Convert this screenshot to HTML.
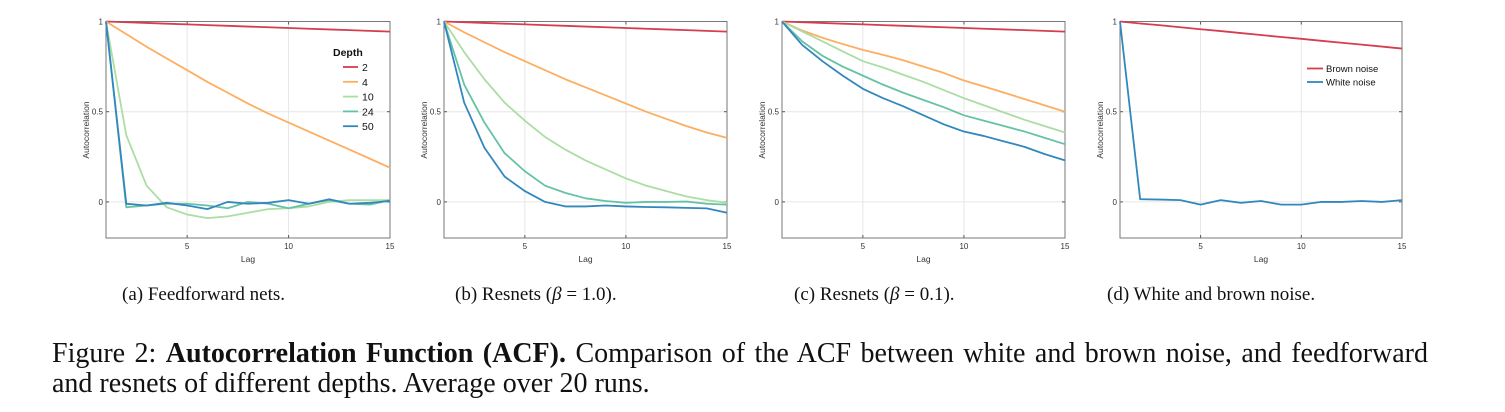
<!DOCTYPE html>
<html><head><meta charset="utf-8">
<style>
body{margin:0;background:#fff;width:1505px;height:412px;overflow:hidden;position:relative;font-family:"Liberation Serif",serif;}
svg{position:absolute;left:0;top:0}
.cap{position:absolute;font-size:19px;color:#111;white-space:nowrap}
.fl{position:absolute;left:52px;font-size:28px;line-height:30px;color:#111;white-space:nowrap}
</style></head>
<body>
<svg id="chart" width="1505" height="412"></svg>
<div class="cap" style="left:122px;top:284px">(a) Feedforward nets.</div>
<div class="cap" style="left:455px;top:284px">(b) Resnets (<i>β</i> = 1.0).</div>
<div class="cap" style="left:794px;top:284px">(c) Resnets (<i>β</i> = 0.1).</div>
<div class="cap" style="left:1107px;top:284px">(d) White and brown noise.</div>
<div class="fl" style="top:339px;width:1376px;white-space:normal;text-align:justify;text-align-last:justify;height:30px;overflow:hidden">Figure 2: <b>Autocorrelation Function (ACF).</b> Comparison of the ACF between white and brown noise, and feedforward</div>
<div class="fl" style="top:369px">and resnets of different depths. Average over 20 runs.</div>
<script>
const lags=[1,2,3,4,5,6,7,8,9,10,11,12,13,14,15];
const depthLabels=["2","4","10","24","50"];
const a2=[1,.996,.992,.988,.984,.98,.976,.972,.968,.964,.96,.956,.952,.948,.944];
const a4=[1,.93,.86,.795,.73,.665,.605,.545,.49,.44,.39,.34,.29,.24,.19];
const a10=[1,.37,.09,-.03,-.07,-.09,-.08,-.06,-.04,-.035,-.025,0,.01,.01,.01];
const a24=[1,-.03,-.02,-.01,-.01,-.02,-.035,0,-.01,-.035,-.01,.01,-.01,-.015,.01];
const a50=[1,-.01,-.02,-.005,-.02,-.04,0,-.01,-.005,.01,-.01,.015,-.01,-.005,.005];
const b2=[1,.996,.992,.988,.984,.98,.976,.972,.968,.964,.96,.956,.952,.948,.944];
const b4=[1,.94,.885,.83,.78,.73,.68,.635,.59,.545,.5,.46,.42,.385,.355];
const b10=[1,.83,.68,.55,.45,.36,.29,.23,.18,.13,.09,.06,.03,.01,-.005];
const b24=[1,.65,.44,.27,.17,.09,.05,.02,.005,-.005,0,0,.002,-.01,-.015];
const b50=[1,.55,.3,.14,.06,0,-.025,-.025,-.02,-.025,-.028,-.03,-.033,-.036,-.06];
const c2=[1,.996,.992,.988,.984,.98,.976,.972,.968,.964,.96,.956,.952,.948,.944];
const c4=[1,.95,.91,.875,.843,.815,.785,.75,.715,.673,.64,.605,.57,.535,.5];
const c10=[1,.945,.89,.835,.78,.745,.705,.665,.62,.575,.535,.495,.455,.42,.385];
const c24=[1,.89,.81,.75,.7,.65,.605,.565,.525,.48,.45,.42,.39,.355,.32];
const c50=[1,.87,.78,.7,.627,.575,.53,.48,.43,.39,.365,.335,.305,.265,.23];
const brown=[1,.989,.979,.968,.957,.947,.936,.925,.914,.904,.893,.882,.872,.861,.85];
const white=[1,.015,.013,.01,-.015,.01,-.005,.005,-.015,-.015,0,0,.005,0,.01];
const xTicks=[5,10,15];
const yTicks=[0,0.5,1];
const yTickLabels=["0","0.5","1"];
const colors=["#d53e4f","#fdae61","#abdda4","#66c2a5","#3288bd"];
const NS="http://www.w3.org/2000/svg";
const svg=document.getElementById("chart");
function mk(tag,attrs,parent){const e=document.createElementNS(NS,tag);for(const k in attrs)e.setAttribute(k,attrs[k]);(parent||svg).appendChild(e);return e;}
function panel(id,left,right,series,cols){
  const top=21.5,bottom=238,ymin=-0.2,ymax=1;
  const x=v=>left+(v-1)/(14)*(right-left);
  const y=v=>bottom-(v-ymin)/(ymax-ymin)*(bottom-top);
  const g=mk("g",{});
  
  
  xTicks.forEach(t=>{const l=mk("line",{x1:x(t),x2:x(t),y1:top,y2:bottom,stroke:"#e6e6e6","stroke-width":1},g);
    
    mk("line",{x1:x(t),x2:x(t),y1:bottom,y2:bottom-3,stroke:"#555"},g);mk("line",{x1:x(t),x2:x(t),y1:top,y2:top+3,stroke:"#555"},g);
    const tx=mk("text",{x:x(t),y:bottom+11,"font-size":8,"text-anchor":"middle",fill:"#333","font-family":"Liberation Sans, sans-serif"},g);tx.textContent=t;
    });
  yTicks.forEach((t,i)=>{const l=mk("line",{x1:left,x2:right,y1:y(t),y2:y(t),stroke:"#e6e6e6","stroke-width":1},g);
    
    mk("line",{x1:left,x2:left+3,y1:y(t),y2:y(t),stroke:"#555"},g);mk("line",{x1:right,x2:right-3,y1:y(t),y2:y(t),stroke:"#555"},g);
    const tx=mk("text",{x:left-3,y:y(t)+3,"font-size":8,"text-anchor":"end",fill:"#333","font-family":"Liberation Sans, sans-serif"},g);tx.textContent=yTickLabels[i];
    });
  const fr=mk("rect",{x:left,y:top,width:right-left,height:bottom-top,fill:"none",stroke:"#777","stroke-width":1},g);
  
  const xl=mk("text",{x:(left+right)/2,y:262,"font-size":8.5,"text-anchor":"middle",fill:"#333","font-family":"Liberation Sans, sans-serif"},g);xl.textContent="Lag";
  
  const yl=mk("text",{x:0,y:0,"font-size":8.5,"text-anchor":"middle",fill:"#333","font-family":"Liberation Sans, sans-serif",transform:`translate(${left-17},130) rotate(-90)`},g);yl.textContent="Autocorrelation";
  
  series.forEach((s,i)=>{const p=mk("polyline",{points:s.map((v,j)=>x(lags[j])+","+y(v)).join(" "),fill:"none",stroke:cols[i],"stroke-width":1.8,"stroke-linejoin":"round"},g);
    });
  return g;
}
panel("a",106,390,[a2,a4,a10,a24,a50],colors);
panel("b",444,727,[b2,b4,b10,b24,b50],colors);
panel("c",782,1065,[c2,c4,c10,c24,c50],colors);
panel("d",1120,1402,[brown,white],[colors[0],colors[4]]);
const lt=mk("text",{x:333,y:56,"font-size":10.5,"font-weight":"bold",fill:"#111","font-family":"Liberation Sans, sans-serif"});lt.textContent="Depth";

depthLabels.forEach((d,i)=>{const yy=67+i*14.8;
  const l=mk("line",{x1:343,x2:358,y1:yy,y2:yy,stroke:colors[i],"stroke-width":1.8});
  
  const t=mk("text",{x:362,y:yy+4,"font-size":10.5,fill:"#111","font-family":"Liberation Sans, sans-serif"});t.textContent=d;
  });
["Brown noise","White noise"].forEach((n,i)=>{const yy=68.5+i*13.5;const c=i?colors[4]:colors[0];
  const l=mk("line",{x1:1307,x2:1323,y1:yy,y2:yy,stroke:c,"stroke-width":1.8});
  
  const t=mk("text",{x:1326,y:yy+3.5,"font-size":9.5,fill:"#111","font-family":"Liberation Sans, sans-serif"});t.textContent=n;
  });
</script>
</body></html>
